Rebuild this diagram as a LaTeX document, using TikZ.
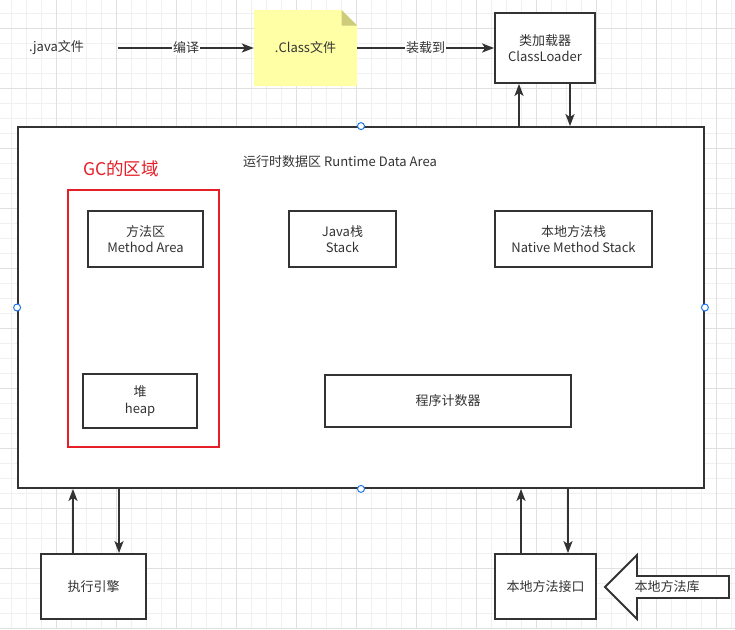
\documentclass[tikz,border=0pt]{standalone}
\usepackage{fontspec}
\setmainfont{Noto Sans CJK SC}
\usetikzlibrary{arrows.meta}
\definecolor{ink}{RGB}{51,51,51}
\definecolor{gcred}{RGB}{230,30,40}
\definecolor{notefill}{RGB}{255,255,166}
\definecolor{notefold}{RGB}{204,204,122}
\definecolor{handle}{RGB}{30,120,230}
\definecolor{gridminor}{RGB}{240,240,240}
\definecolor{gridmajor}{RGB}{224,224,224}

\begin{document}
\begin{tikzpicture}[x=1pt,y=-1pt,
		font=\fontsize{13}{16.5}\selectfont, text=ink,
		box/.style={draw=ink, line width=1.8pt, fill=white, align=center, inner sep=0pt},
		arr/.style={draw=ink, line width=2pt, -{Stealth[length=12pt,width=9pt,inset=3pt]}},
		lbl/.style={fill=white, inner sep=1pt}]
			\useasboundingbox (0,0) rectangle (735,629);
			\begin{scope}
				\clip (0,0) rectangle (735,629);
				\foreach \i in {0,...,48} \draw[gridminor] (10.7+15*\i,0) -- (10.7+15*\i,629);
				\foreach \i in {0,...,41} \draw[gridminor] (0,13+15*\i) -- (735,13+15*\i);
				\foreach \i in {0,...,11} \draw[gridmajor] (55.7+60*\i,0) -- (55.7+60*\i,629);
				\foreach \i in {0,...,10} \draw[gridmajor] (0,28+60*\i) -- (735,28+60*\i);
			\end{scope}
			\fill[notefill] (254,10) -- (341.5,10) -- (357,25.5) -- (357,86) -- (254,86) -- cycle;
			\fill[notefold] (341.5,10) -- (357,25.5) -- (341.5,25.5) -- cycle;
			\node[minimum width=123pt] (java) at (56.5,48) {.java文件};
			\node[minimum width=103pt, minimum height=76pt, inner sep=0pt] (cls) at (305.5,48) {.Class文件};
			\node[box, minimum width=100pt, minimum height=70pt] (cl) at (545,48) {类加载器\\ClassLoader};
			\draw[arr] (java) -- node[lbl] {编译} (cls);
			\draw[arr] (cls) -- node[lbl] {装载到} (cl);
			\node[box, minimum width=686pt, minimum height=361pt] (main) at (361,307.5) {};
			\node[anchor=west, inner sep=0pt] (rda) at (243,162) {运行时数据区 Runtime Data Area};
			\node[anchor=west, inner sep=0pt, text=gcred, font=\fontsize{17.5}{20}\selectfont] (gclbl) at (83,169) {GC的区域};
			\node[draw=gcred, line width=1.8pt, minimum width=151pt, minimum height=257pt] (gc) at (143.5,318.5) {};
			\node[box, minimum width=115pt, minimum height=56pt] (method) at (145.5,239) {方法区\\Method Area};
			\node[box, minimum width=114pt, minimum height=54pt] (heap) at (140,401) {堆\\heap};
			\node[box, minimum width=107pt, minimum height=56pt] (stack) at (342.5,239) {Java栈\\Stack};
			\node[box, minimum width=157pt, minimum height=56pt] (nstack) at (573.5,239) {本地方法栈\\Native Method Stack};
			\node[box, minimum width=246pt, minimum height=52pt] (pc) at (448,401) {程序计数器};
			\node[box, minimum width=105pt, minimum height=65pt] (exec) at (93.5,586.5) {执行引擎};
			\node[box, minimum width=101pt, minimum height=65pt] (nif) at (545.5,586.5) {本地方法接口};
			\draw[arr] ([xshift=-26pt]cl.south |- main.north) -- ([xshift=-26pt]cl.south);
			\draw[arr] ([xshift=25pt]cl.south) -- ([xshift=25pt]cl.south |- main.north);
			\draw[arr] ([xshift=-20.5pt]exec.north) -- ([xshift=-20.5pt]exec.north |- main.south);
			\draw[arr] ([xshift=25.5pt]exec.north |- main.south) -- ([xshift=25.5pt]exec.north);
			\draw[arr] ([xshift=-24.5pt]nif.north) -- ([xshift=-24.5pt]nif.north |- main.south);
			\draw[arr] ([xshift=22.5pt]nif.north |- main.south) -- ([xshift=22.5pt]nif.north);
			\draw[draw=ink, line width=1.8pt, fill=white] (605,587) -- (637,555) -- (637,576) -- (729,576) -- (729,598) -- (637,598) -- (637,619) -- cycle;
			\node (lib) at (667,587) {本地方法库};
			\foreach \a in {north,south,east,west} \draw[handle, fill=white, line width=1pt] (main.\a) circle (3.5pt);
		\end{tikzpicture}
\end{document}
